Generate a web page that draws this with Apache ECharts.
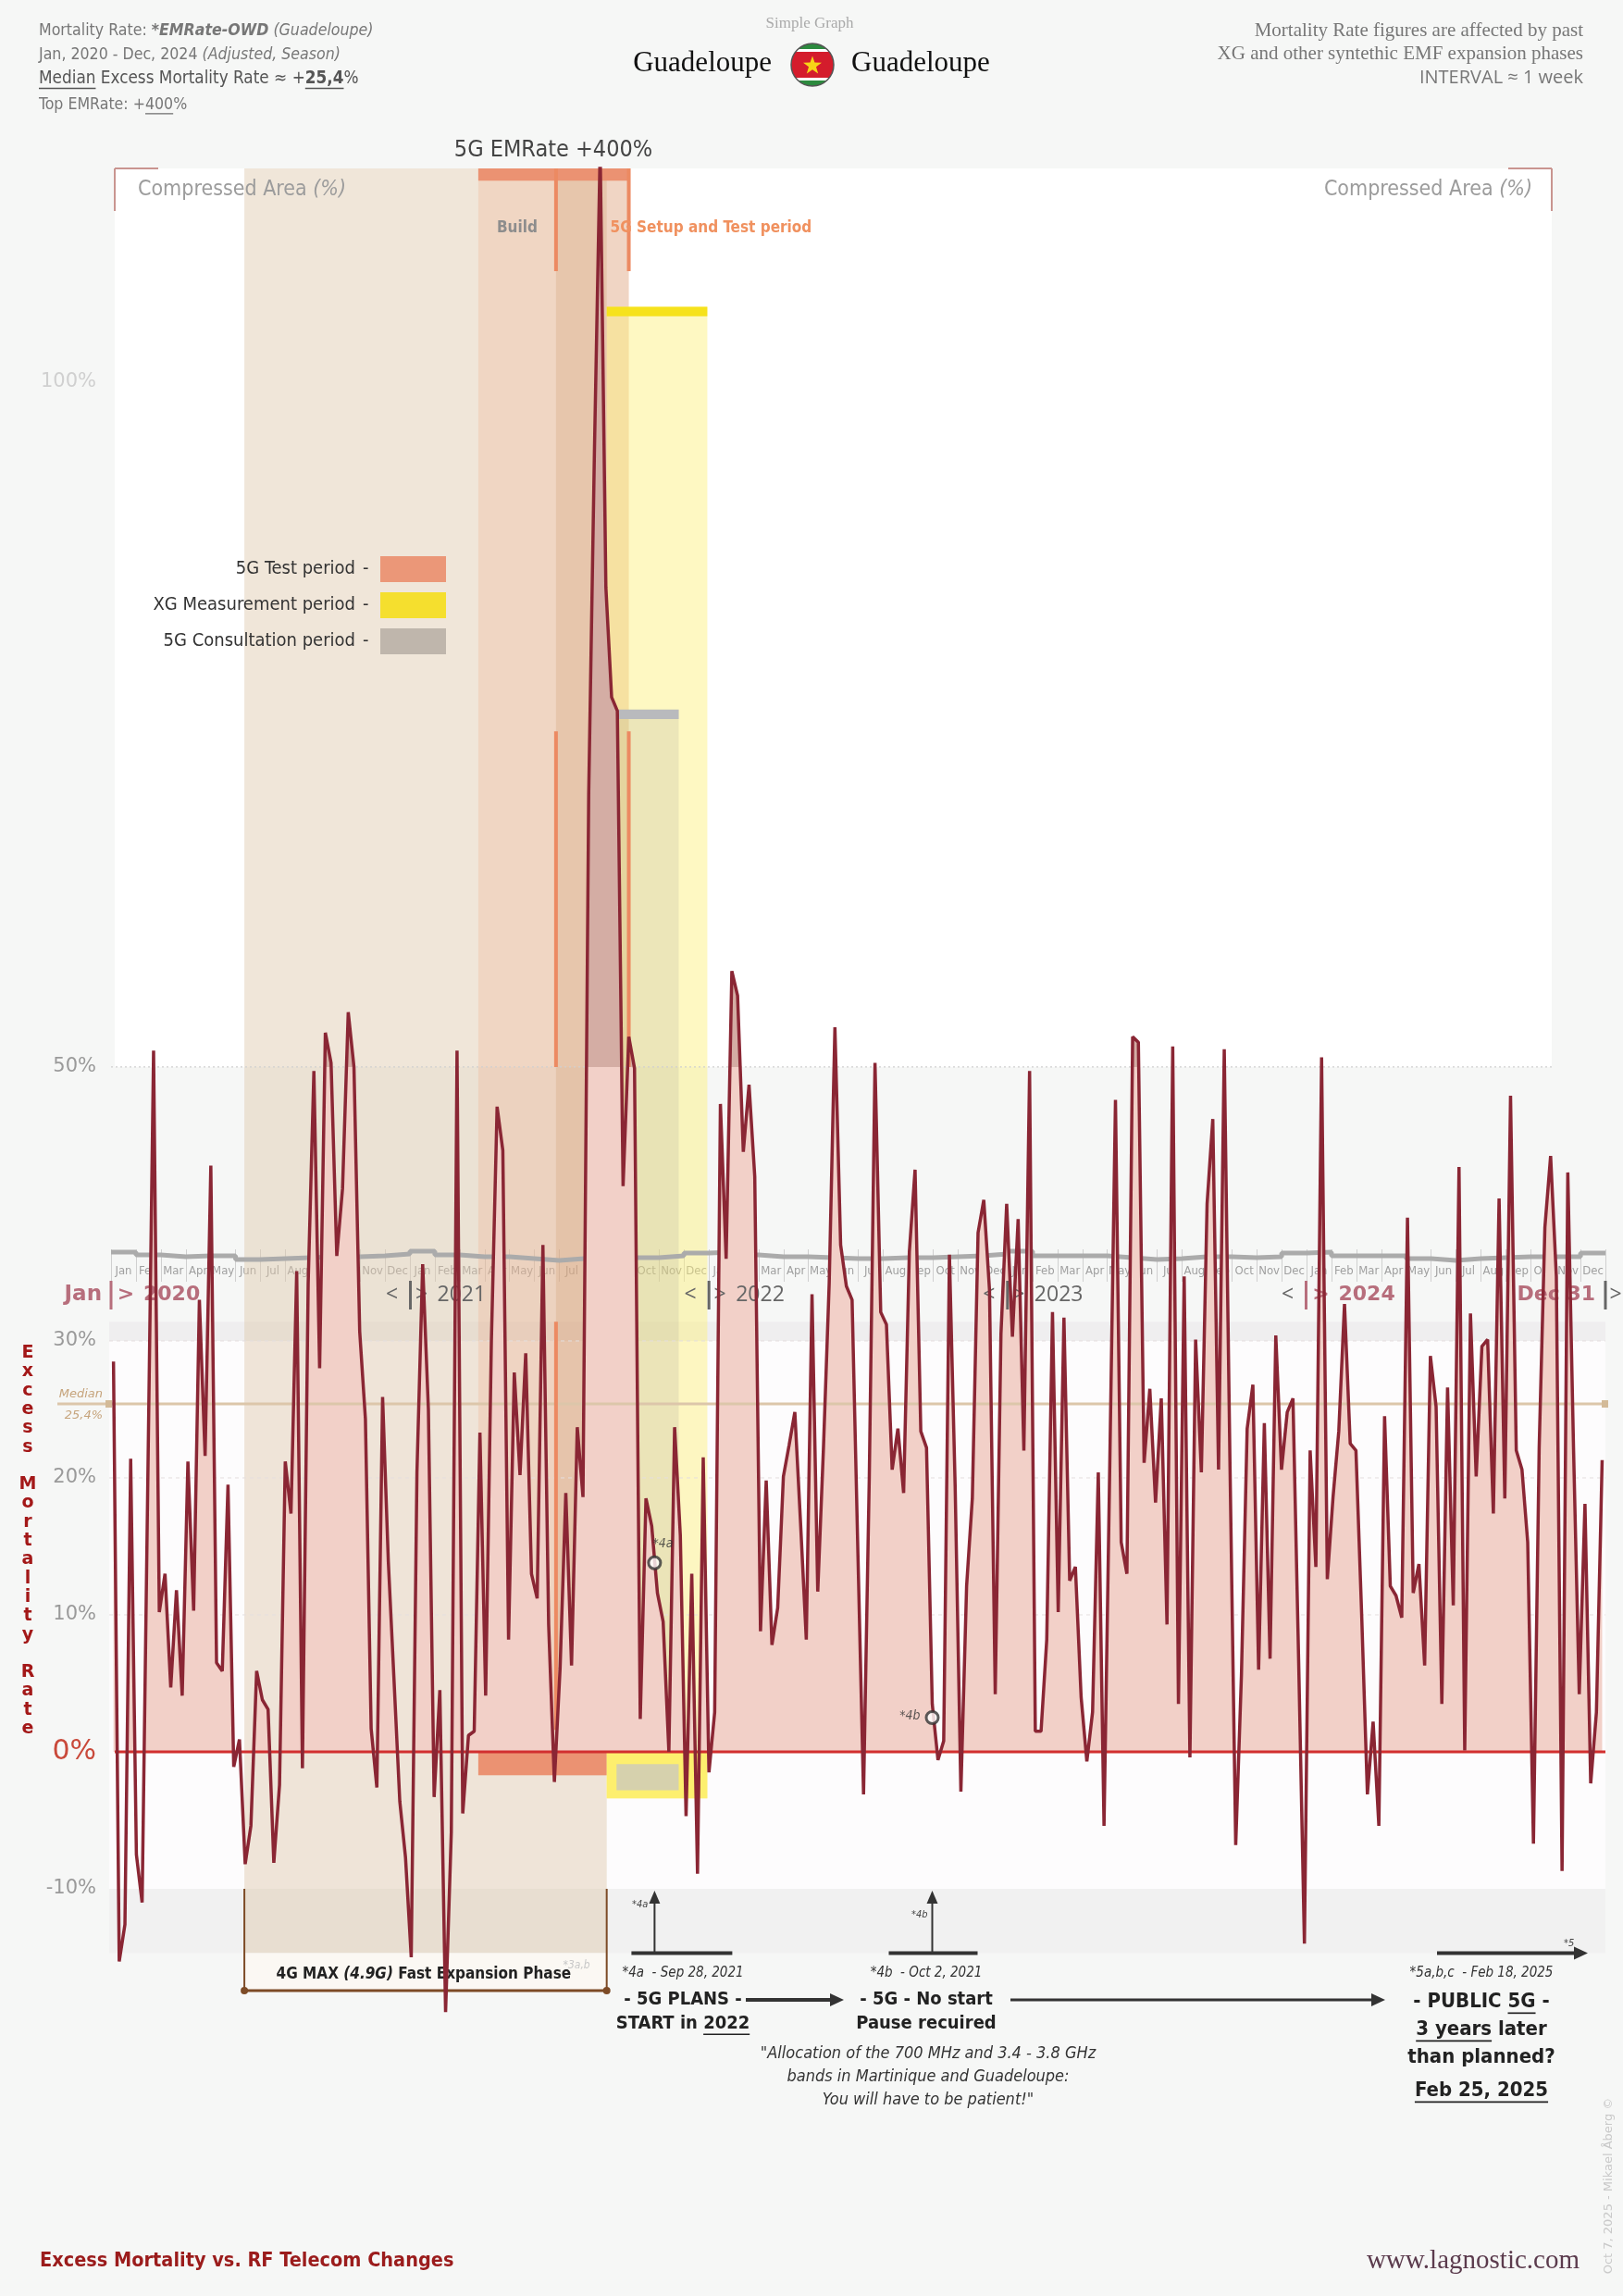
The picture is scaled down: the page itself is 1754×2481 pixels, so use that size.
<!DOCTYPE html>
<html>
<head>
<meta charset="utf-8">
<title>Guadeloupe - Excess Mortality vs. RF Telecom Changes</title>
<script src="https://cdn.jsdelivr.net/npm/echarts@6.0.0/dist/echarts.min.js"></script>
<style>
  html, body { margin: 0; padding: 0; background: #f6f7f6; }
  #chart { width: 1754px; height: 2481px; }
</style>
</head>
<body>
<div id="chart"></div>
<script>
// weekly excess mortality rate (%), first week of Jan 2020 .. last week of Dec 2024
const weeklyExcess = [
  28.5, -15.3, -12.6, 21.4, -7.5, -11, 20, 51.2, 10.2, 13,
  4.7, 11.8, 4.1, 21.2, 10.3, 33, 21.6, 42.8, 6.5, 5.9,
  19.5, -1.1, 0.9, -8.2, -5.4, 5.9, 3.8, 3.1, -8.1, -2.4,
  21.2, 17.4, 35.1, -1.2, 34.2, 49.7, 28, 52.5, 50.3, 36.2,
  41.1, 54, 50, 30.7, 24.3, 1.7, -2.6, 25.9, 13.9, 5.2,
  -3.6, -7.7, -15, 20.4, 35.6, 25, -3.3, 4.5, -19, -5.9,
  51.2, -4.5, 1.2, 1.5, 23.3, 4.1, 30, 47.1, 43.9, 8.2,
  27.7, 20.2, 29.1, 13, 11.2, 37, 9.3, -2.2, 6.1, 18.9,
  6.3, 23.7, 18.6, 70, 95, 117, 85, 77, 76, 41.3,
  52.2, 49.9, 2.4, 18.5, 16.5, 11.6, 9.5, 0, 23.7, 15.8,
  -4.7, 13, -8.9, 21.5, -1.5, 2.9, 47.3, 36, 57, 55.2,
  43.8, 48.7, 42, 8.8, 19.8, 7.8, 10.5, 20.1, 22.4, 24.8,
  16.7, 8.2, 33.4, 11.7, 22.2, 34.2, 52.9, 37, 34, 33,
  14.8, -3.1, 20, 50.3, 32.1, 31.2, 20.6, 23.6, 18.9, 36.5,
  42.5, 23.4, 22.2, 3.5, -0.6, 0.8, 36.3, 19.4, -2.9, 12.1,
  18.5, 37.9, 40.3, 33.7, 4.2, 30.5, 40, 30.3, 38.9, 22,
  49.7, 1.5, 1.5, 8.2, 32.1, 10.2, 31.7, 12.5, 13.5, 4,
  -0.7, 2.9, 20.4, -5.4, 20.8, 47.6, 15.3, 13, 52.2, 51.8,
  21.1, 26.5, 18.2, 25.8, 9.3, 51.5, 3.5, 34.7, -0.4, 30.1,
  20.4, 40, 46.2, 20.6, 51.3, 21, -6.8, 5.6, 23.6, 26.8,
  6, 24, 6.8, 30.4, 20.6, 24.8, 25.8, 6.5, -14, 22,
  13.5, 50.7, 12.6, 18.6, 23.4, 32.7, 22.5, 22, 10, -3.1,
  2.2, -5.4, 24.5, 12.1, 11.4, 9.8, 39, 11.6, 13.7, 6.3,
  28.9, 25.2, 3.5, 26.6, 10.7, 42.7, 0.1, 32, 20.1, 29.6,
  30.1, 17.4, 40.4, 18.5, 47.9, 22, 20.6, 15.3, -6.7, 22.2,
  38.3, 43.5, 34.7, -8.7, 42.3, 22.2, 4.2, 18.1, -2.3, 2.9,
  21.3
];
const firstWeek = [2020, 0, 4];
const monthAbbr = ['Jan','Feb','Mar','Apr','May','Jun','Jul','Aug','Sep','Oct','Nov','Dec'];
const years = [2020, 2021, 2022, 2023, 2024];
// grey seasonal step strip, one level per month (+ closing value)
const seasonLevel = [
  13,10,8,9,9,5,6,7,8,8,9,11,
  14,10,8,8,6,4,6,7,7,7,9,12,
  13,10,8,8,7,6,6,7,7,8,9,11,
  14,9,9,9,7,5,6,8,8,7,8,12,
  13,9,9,9,6,4,6,7,8,8,8,12, 12
];
const yTickValues = [100, 50, 30, 20, 10, 0, -10];
const gridLineValues = [10, 20, 30];
const medianRate = 25.4;
const topRate = 400;
// periods
const expansionPhase = ['2020-06-12', '2021-08-29'];
const testPeriod = ['2021-03-25', '2021-09-25'];
const setupStart = '2021-06-28';
const measurePeriod = ['2021-08-29', '2021-12-30'];
const consultPeriod = ['2021-09-10', '2021-11-25'];
// note markers: [id, week index, value]
const noteMarks = [['*4a', 94.5, 13.8], ['*4b', 143, 2.5]];

const NARROW = "'Liberation Sans Narrow','Arial Narrow','DejaVu Sans Condensed','Open Sans',sans-serif";
const OPEN = "'Open Sans','Noto Sans',sans-serif";
const SERIF = "'Liberation Serif','DejaVu Serif',serif";
const VERD = "'DejaVu Sans','Verdana',sans-serif";

const DAY = 864e5;
const tStart = new Date(2020, 0, 1).getTime();
const tEnd = new Date(2025, 0, 1).getTime();
const week0 = new Date(firstWeek[0], firstWeek[1], firstWeek[2]).getTime();
const weekTime = w => week0 + w * 7 * DAY;
const day = s => { const p = s.split('-').map(Number); return new Date(p[0], p[1] - 1, p[2]).getTime(); };

const lineData = weeklyExcess.map((v, i) => [weekTime(i), v]);
const monthNames = [];
years.forEach(() => monthAbbr.forEach(m => monthNames.push(m)));

const GT = 182, GB = 292, GH = 2481 - GT - GB;
const Y_MIN = -20, Y_MAX = 115.6;
const off = v => (Y_MAX - v) / (Y_MAX - Y_MIN);

const areaFill = {
  type: 'linear', x: 0, y: GT, x2: 0, y2: GT + GH, global: true,
  colorStops: [
    { offset: 0, color: '#d4ada4' }, { offset: off(50), color: '#d4ada4' },
    { offset: off(50), color: '#f2d0c8' }, { offset: off(0), color: '#f2d0c8' },
    { offset: off(0), color: 'rgba(255,255,255,0)' }, { offset: 1, color: 'rgba(255,255,255,0)' }
  ]
};

function box(t1, v1, t2, v2, color) {
  return [{ xAxis: day(t1), yAxis: v1, itemStyle: { color: color, opacity: 1 } }, { xAxis: day(t2), yAxis: v2 }];
}
const bandAreas = [
  box(expansionPhase[0], -14.7, expansionPhase[1], Y_MAX, 'rgba(222,200,170,0.45)'),
  box(testPeriod[0], -1.7, testPeriod[1], Y_MAX, 'rgba(240,150,110,0.2)'),
  box(setupStart, -1.7, testPeriod[1], Y_MAX, 'rgba(200,140,90,0.22)'),
  box(measurePeriod[0], -3.4, measurePeriod[1], 105.5, 'rgba(252,240,120,0.45)'),
  box(consultPeriod[0], -2.8, consultPeriod[1], 76.1, 'rgba(165,160,150,0.2)'),
  box(testPeriod[0], 114.7, testPeriod[1], Y_MAX, '#eb9272'),
  box(measurePeriod[0], 104.8, measurePeriod[1], 105.5, '#f6e21c'),
  box(consultPeriod[0], 75.4, consultPeriod[1], 76.1, '#b9babd'),
  box(testPeriod[0], 0, measurePeriod[0], -1.7, '#eb9272'),
  box(measurePeriod[0], 0, measurePeriod[1], -3.4, '#fdef6e'),
  box(consultPeriod[0], -0.9, consultPeriod[1], -2.8, '#d6d1ad')
];

const chart = echarts.init(document.getElementById('chart'));
chart.setOption({
  animation: false,
  backgroundColor: '#f6f7f6',
  textStyle: { fontFamily: NARROW },
  grid: [
    { left: 120, right: 19, top: GT, bottom: GB },
    { left: 120, right: 19, top: 1350, height: 16 }
  ],
  xAxis: [
    { type: 'time', gridIndex: 0, min: tStart, max: tEnd, show: false },
    {
      type: 'category', gridIndex: 1, data: monthNames, boundaryGap: true,
      axisLine: { show: false },
      axisTick: { show: true, interval: 0, length: 19, lineStyle: { color: '#d0d0d0' } },
      splitLine: { show: true, interval: 0, lineStyle: { color: '#d0d0d0' } },
      axisLabel: { interval: 0, margin: 1, color: '#a0a0a0', fontSize: 13, fontFamily: NARROW }
    },
    { type: 'category', gridIndex: 1, position: 'top', data: seasonLevel.map((v, i) => i), boundaryGap: false, show: false }
  ],
  yAxis: [
    { type: 'value', gridIndex: 0, min: Y_MIN, max: Y_MAX, show: false },
    { type: 'value', gridIndex: 1, min: 0, max: 16, show: false }
  ],
  series: [
    {
      name: 'periods', type: 'line', data: lineData, symbol: 'none', silent: true, z: 1,
      lineStyle: { opacity: 0 },
      markArea: { silent: true, label: { show: false }, data: bandAreas }
    },
    {
      name: 'season', type: 'line', xAxisIndex: 2, yAxisIndex: 1, data: seasonLevel,
      step: 'end', symbol: 'none', silent: true, z: 2,
      lineStyle: { color: '#ababab', width: 5 }
    },
    {
      name: 'area', type: 'line', data: lineData, symbol: 'none', silent: true, z: 3,
      lineStyle: { width: 0, opacity: 0 },
      areaStyle: { color: areaFill, opacity: 1 }
    },
    {
      name: 'Excess mortality', type: 'line', data: lineData, symbol: 'none', silent: true, z: 5,
      lineStyle: { color: '#8a2634', width: 3.5 }
    },
    {
      name: 'notes', type: 'scatter', z: 6, silent: true,
      symbol: 'circle', symbolSize: 13,
      itemStyle: { color: '#ffffff', borderColor: '#333', borderWidth: 3 },
      data: noteMarks.map((n, k) => ({
        name: n[0], value: [weekTime(n[1]), n[2]],
        label: {
          show: true, formatter: '{b}', fontStyle: 'italic', fontSize: 14, color: '#333',
          position: k === 0 ? 'top' : 'left', offset: k === 0 ? [9, 0] : [0, -2]
        }
      }))
    }
  ]
});

// measuring text so mixed runs and underlines line up
const mctx = document.createElement('canvas').getContext('2d');
function tw(t, s, f, w, i) {
  mctx.font = (i ? 'italic' : 'normal') + ' ' + (w || 'normal') + ' ' + s + 'px ' + f;
  return mctx.measureText(t).width;
}

function decorate() {
  const els = [];
  const P = (t, v) => chart.convertToPixel({ gridIndex: 0 }, [t, v]);
  const X = t => P(t, 0)[0];
  const Y = v => P(tStart, v)[1];
  const xL = X(tStart), xR = X(tEnd);

  function txt(x, y, text, o) {
    const el = {
      type: 'text', x: x, y: y, z: o.z == null ? 20 : o.z, silent: true,
      style: {
        text: text, fill: o.c || '#333', fontSize: o.s, fontFamily: o.f || NARROW,
        fontWeight: o.w || 'normal', fontStyle: o.i ? 'italic' : 'normal',
        align: o.a || 'left', verticalAlign: o.v || 'middle',
        textAlign: o.a || 'left', textVerticalAlign: o.v || 'middle'
      }
    };
    if (o.lh) el.style.lineHeight = o.lh;
    if (o.rot) el.rotation = o.rot;
    return el;
  }
  function ln(x1, y1, x2, y2, c, w, o) {
    o = o || {};
    return { type: 'line', z: o.z == null ? 4 : o.z, silent: true, shape: { x1: x1, y1: y1, x2: x2, y2: y2 },
      style: { stroke: c, lineWidth: w, lineDash: o.dash || null } };
  }
  function rc(x, y, w, h, fill, z) {
    return { type: 'rect', z: z, silent: true, shape: { x: x, y: y, width: w, height: h }, style: { fill: fill } };
  }
  function run(x, y, parts, o) {
    const pieces = parts.map(p => {
      const q = Object.assign({}, o, p);
      q.wd = tw(q.t, q.s, q.f || NARROW, q.w, q.i);
      return q;
    });
    const total = pieces.reduce((a, q) => a + q.wd, 0);
    let cx = o.a === 'right' ? x - total : o.a === 'center' ? x - total / 2 : x;
    pieces.forEach(q => {
      els.push(txt(cx, y, q.t, Object.assign({}, q, { a: 'left' })));
      if (q.u) els.push(ln(cx, y + q.s * 0.56, cx + q.wd, y + q.s * 0.56, q.c || '#333', Math.max(1.2, q.s / 13), { z: 20 }));
      cx += q.wd;
    });
  }
  function arrowR(x1, x2, y, c, w) {
    els.push(ln(x1, y, x2 - 10, y, c, w, { z: 20 }));
    els.push({ type: 'polygon', z: 20, silent: true, shape: { points: [[x2, y], [x2 - 15, y - 7], [x2 - 15, y + 7]] }, style: { fill: c } });
  }
  function arrowU(x, y1, y2, c, w) {
    els.push(ln(x, y1, x, y2 + 10, c, w, { z: 20 }));
    els.push({ type: 'polygon', z: 20, silent: true, shape: { points: [[x, y2], [x - 6, y2 + 14], [x + 6, y2 + 14]] }, style: { fill: c } });
  }

  // panel backgrounds
  els.push(rc(124, GT, 1677 - 124, Y(50) - GT, '#ffffff', 0));
  els.push(rc(118, Y(31.4), xR - 118, Y(30) - Y(31.4), '#efeeef', 0));
  els.push(rc(118, Y(30), xR - 118, Y(-10) - Y(30), '#fdfcfd', 0));
  els.push(rc(118, Y(-10), xR - 118, Y(-14.7) - Y(-10), '#f1f1f1', 0));

  // guides
  gridLineValues.forEach(v => els.push(ln(118, Y(v), xR, Y(v), '#e4dfdf', 1, { dash: [4, 4], z: 2 })));
  els.push(ln(xL, Y(50), 1677, Y(50), '#cfcfcf', 1.2, { dash: [2, 3], z: 2 }));
  const ym = Y(medianRate);
  els.push(ln(62, ym, xR, ym, '#dcc6aa', 3, { z: 4 }));
  els.push(rc(114, ym - 4, 7, 8, '#d3ba98', 4));
  els.push(rc(xR - 4, ym - 4, 7, 8, '#d3ba98', 4));
  els.push(ln(xL + 4, Y(0), xR, Y(0), '#d22f2f', 3, { z: 4 }));

  // orange period verticals
  const xs = X(day(setupStart)), xe = X(day(testPeriod[1]));
  [[Y_MAX, 108.1], [74.5, 50], [31.4, 1.6]].forEach(s => els.push(ln(xs, Y(s[0]), xs, Y(s[1]), '#ec8a62', 4, { z: 4 })));
  [[Y_MAX, 108.1], [74.5, 50]].forEach(s => els.push(ln(xe, Y(s[0]), xe, Y(s[1]), '#ec8a62', 4, { z: 4 })));

  // panel corners
  const cc = '#c99590';
  els.push(ln(124, GT, 171, GT, cc, 2, { z: 20 }), ln(124, GT, 124, 228, cc, 2, { z: 20 }));
  els.push(ln(1630, GT, 1677, GT, cc, 2, { z: 20 }), ln(1677, GT, 1677, 228, cc, 2, { z: 20 }));

  // header left
  run(42, 33, [{ t: 'Mortality Rate: ' }, { t: '*EMRate-OWD', w: 'bold', i: 1 }, { t: ' (Guadeloupe)', i: 1 }], { s: 17.6, c: '#777' });
  run(42, 59, [{ t: 'Jan, 2020 - Dec, 2024 ' }, { t: '(Adjusted, Season)', i: 1 }], { s: 17.6, c: '#777' });
  run(42, 85, [{ t: 'Median', u: 1 }, { t: ' Excess Mortality Rate \u2248 +' }, { t: String(medianRate).replace('.', ','), u: 1, w: 'bold' }, { t: '%' }], { s: 18.8, c: '#555' });
  run(42, 113, [{ t: 'Top EMRate: +' }, { t: String(topRate), u: 1 }, { t: '%' }], { s: 17.6, c: '#777' });
  // header right
  els.push(txt(1711, 33, 'Mortality Rate figures are affected by past', { s: 21, f: SERIF, c: '#777', a: 'right' }));
  els.push(txt(1711, 58, 'XG and other syntethic EMF expansion phases', { s: 21, f: SERIF, c: '#777', a: 'right' }));
  els.push(txt(1711, 84, 'INTERVAL \u2248 1 week', { s: 20, f: OPEN, c: '#777', a: 'right' }));
  // title + flag
  els.push(txt(875, 26, 'Simple Graph', { s: 17, f: SERIF, c: '#aaa', a: 'center' }));
  els.push(txt(834, 69, 'Guadeloupe', { s: 31, f: SERIF, c: '#111', a: 'right' }));
  els.push(txt(920, 69, 'Guadeloupe', { s: 31, f: SERIF, c: '#111' }));
  const fx = 878, fy = 70, fr = 23;
  function cap(y1, y2) {
    const pts = [], n = 14;
    for (let k = 0; k <= n; k++) { const y = y1 + (y2 - y1) * k / n; pts.push([fx + Math.sqrt(Math.max(0, fr * fr - (y - fy) * (y - fy))), y]); }
    for (let k = n; k >= 0; k--) { const y = y1 + (y2 - y1) * k / n; pts.push([fx - Math.sqrt(Math.max(0, fr * fr - (y - fy) * (y - fy))), y]); }
    return pts;
  }
  [[fy - fr, fy - fr + 6, '#2c8a3e'], [fy - fr + 6, fy - fr + 9, '#ffffff'], [fy - fr + 9, fy + fr - 9, '#d41c2c'],
   [fy + fr - 9, fy + fr - 6, '#ffffff'], [fy + fr - 6, fy + fr, '#2c8a3e']].forEach(b =>
    els.push({ type: 'polygon', z: 20, silent: true, shape: { points: cap(b[0], b[1]) }, style: { fill: b[2] } }));
  const star = [];
  for (let k = 0; k < 10; k++) { const r = k % 2 ? 4.2 : 10.5, a = -Math.PI / 2 + k * Math.PI / 5; star.push([fx + r * Math.cos(a), fy + 1 + r * Math.sin(a)]); }
  els.push({ type: 'polygon', z: 21, silent: true, shape: { points: star }, style: { fill: '#f7d417' } });
  els.push({ type: 'circle', z: 21, silent: true, shape: { cx: fx, cy: fy, r: fr }, style: { fill: 'none', stroke: '#555', lineWidth: 1.5 } });

  // chart annotations
  els.push(txt(598, 162, '5G EMRate +' + topRate + '%', { s: 25, c: '#444', a: 'center' }));
  run(149, 205, [{ t: 'Compressed Area ' }, { t: '(%)', i: 1 }], { s: 23, c: '#9c9c9c' });
  run(1656, 205, [{ t: 'Compressed Area ' }, { t: '(%)', i: 1 }], { s: 23, c: '#9c9c9c', a: 'right' });
  els.push(txt((X(day(testPeriod[0])) + xs) / 2, 247, 'Build', { s: 17, w: 'bold', c: '#8d8d8d', a: 'center' }));
  els.push(txt(xe - 20, 247, '5G Setup and Test period', { s: 17, w: 'bold', c: '#f0915f' }));

  // legend
  [['5G Test period', '#eb9778', 615], ['XG Measurement period', '#f5df2e', 654], ['5G Consultation period', '#bfb6ac', 693]].forEach(r => {
    els.push(txt(384, r[2], r[0], { s: 20, c: '#333', a: 'right' }));
    els.push(txt(392, r[2], '-', { s: 20, c: '#333' }));
    els.push(rc(411, r[2] - 14, 71, 28, r[1], 20));
  });

  // y tick labels
  yTickValues.forEach(v => {
    const st = v === 0 ? { s: 30, c: '#c9493a' } : v === 100 ? { s: 21, c: '#d0d0d0' } : { s: 21, c: '#9a9a9a' };
    els.push(txt(104, Y(v), v + '%', Object.assign({ f: VERD, a: 'right' }, st)));
  });
  els.push(txt(30, 1452, 'E\nx\nc\ne\ns\ns\n\nM\no\nr\nt\na\nl\ni\nt\ny\n\nR\na\nt\ne',
    { s: 19, w: 'bold', c: '#a31818', a: 'center', v: 'top', lh: 20.3, f: VERD }));
  els.push(txt(111, ym - 10, 'Median', { s: 13, i: 1, c: '#c6a47c', a: 'right', f: VERD }));
  els.push(txt(111, ym + 13, String(medianRate).replace('.', ',') + '%', { s: 13, i: 1, c: '#c6a47c', a: 'right', f: VERD }));

  // year markers on the month strip
  const rose = '#b76e7c', grey = '#666', yy = 1399;
  years.forEach((yr, k) => {
    const x = X(new Date(yr, 0, 1).getTime());
    const hot = k === 0 || k === years.length - 1;
    els.push(rc(x - 1.5, 1384, 3, 31, hot ? rose : '#666', 4));
    if (k === 0) {
      els.push(txt(x - 10, yy, 'Jan', { s: 23, w: 'bold', f: VERD, c: rose, a: 'right', z: 4 }));
    } else {
      els.push(txt(x - 20, yy, '<', { s: 23, f: OPEN, c: grey, a: 'center', z: 4 }));
    }
    if (hot) {
      els.push(txt(x + 16, yy, '>', { s: 22, f: VERD, c: rose, w: 'bold', a: 'center', z: 4 }));
      els.push(txt(x + 35, yy, String(yr), { s: 22, f: VERD, c: rose, w: 'bold', z: 4 }));
    } else {
      els.push(txt(x + 12, yy, '>', { s: 23, f: OPEN, c: grey, a: 'center', z: 4 }));
      els.push(txt(x + 29, yy, String(yr), { s: 23, f: OPEN, c: grey, z: 4 }));
    }
  });
  els.push(txt(xR - 11, yy, 'Dec 31', { s: 22, w: 'bold', f: VERD, c: rose, a: 'right', z: 4 }));
  els.push(rc(xR - 1.5, 1384, 3, 31, '#666', 4));
  els.push(txt(xR + 11, yy, '>', { s: 23, f: OPEN, c: grey, a: 'center', z: 4 }));

  // expansion phase box under the chart
  const xa = X(day(expansionPhase[0])), xb = X(day(expansionPhase[1]));
  const bTop = Y(-14.7), bBot = 2151;
  els.push(rc(xa, bTop, xb - xa, bBot - bTop, '#fbf8f3', 2));
  els.push(ln(xa, Y(-10), xa, bBot, '#7d4b26', 2, { z: 3 }), ln(xb, Y(-10), xb, bBot, '#7d4b26', 2, { z: 3 }));
  els.push(ln(xa, bBot, xb, bBot, '#7d4b26', 3, { z: 3 }));
  els.push({ type: 'circle', z: 3, silent: true, shape: { cx: xa, cy: bBot, r: 4 }, style: { fill: '#7d4b26' } });
  els.push({ type: 'circle', z: 3, silent: true, shape: { cx: xb, cy: bBot, r: 4 }, style: { fill: '#7d4b26' } });
  run((xa + xb) / 2 - 2, 2134, [{ t: '4G MAX ' }, { t: '(4.9G)', i: 1 }, { t: ' Fast Expansion Phase' }], { s: 17, w: 'bold', c: '#222', a: 'center', z: 3 });
  els.push(txt(xb - 18, 2124, '*3a,b', { s: 12, i: 1, c: '#c8c8c8', a: 'right' }));

  // note arrows and texts
  const n4a = X(weekTime(noteMarks[0][1])), n4b = X(weekTime(noteMarks[1][1]));
  const aTip = Y(-10) + 2, aBase = Y(-14.7);
  arrowU(n4a, aBase, aTip, '#333', 2);
  els.push(ln(n4a - 25, aBase, n4a + 84, aBase, '#333', 4, { z: 20 }));
  els.push(txt(n4a - 7, 2058, '*4a', { s: 11, i: 1, c: '#444', a: 'right' }));
  arrowU(n4b, aBase, aTip, '#333', 2);
  els.push(ln(n4b - 47, aBase, n4b + 49, aBase, '#333', 4, { z: 20 }));
  els.push(txt(n4b - 5, 2069, '*4b', { s: 11, i: 1, c: '#444', a: 'right' }));

  run(738, 2132, [{ t: '*4a  - Sep 28, 2021' }], { s: 15, i: 1, c: '#333', a: 'center' });
  run(738, 2161, [{ t: '- 5G PLANS -' }], { s: 20, w: 'bold', c: '#222', a: 'center' });
  run(738, 2187, [{ t: 'START in ' }, { t: '2022', u: 1 }], { s: 20, w: 'bold', c: '#222', a: 'center' });
  arrowR(806, 912, 2161, '#333', 4);
  run(1001, 2132, [{ t: '*4b  - Oct 2, 2021' }], { s: 15, i: 1, c: '#333', a: 'center' });
  run(1001, 2161, [{ t: '- 5G - No start' }], { s: 20, w: 'bold', c: '#222', a: 'center' });
  run(1001, 2187, [{ t: 'Pause recuired' }], { s: 20, w: 'bold', c: '#222', a: 'center' });
  arrowR(1092, 1497, 2161, '#333', 3);
  els.push(txt(1003, 2219, '"Allocation of the 700 MHz and 3.4 - 3.8 GHz', { s: 18, i: 1, c: '#333', a: 'center' }));
  els.push(txt(1003, 2244, 'bands in Martinique and Guadeloupe:', { s: 18, i: 1, c: '#333', a: 'center' }));
  els.push(txt(1003, 2269, 'You will have to be patient!"', { s: 18, i: 1, c: '#333', a: 'center' }));
  arrowR(1553, 1716, aBase, '#333', 4);
  els.push(txt(1690, 2100, '*5', { s: 11, i: 1, c: '#444' }));
  run(1601, 2132, [{ t: '*5a,b,c  - Feb 18, 2025' }], { s: 15, i: 1, c: '#333', a: 'center' });
  run(1601, 2163, [{ t: '- PUBLIC ' }, { t: '5G', u: 1 }, { t: ' -' }], { s: 22, w: 'bold', c: '#222', a: 'center' });
  run(1601, 2193, [{ t: '3 years', u: 1 }, { t: ' later' }], { s: 22, w: 'bold', c: '#222', a: 'center' });
  run(1601, 2223, [{ t: 'than planned?' }], { s: 22, w: 'bold', c: '#222', a: 'center' });
  run(1601, 2259, [{ t: 'Feb 25, 2025', u: 1 }], { s: 22, w: 'bold', c: '#222', a: 'center' });

  // footer
  els.push(txt(43, 2443, 'Excess Mortality vs. RF Telecom Changes', { s: 21.5, w: 'bold', c: '#9b1c1c' }));
  els.push(txt(1707, 2443, 'www.lagnostic.com', { s: 29, f: SERIF, c: '#5b3b4d', a: 'right' }));
  els.push(txt(1739, 2362, 'Oct 7, 2025 - Mikael \u00c5berg \u00a9', { s: 13, f: VERD, c: '#c9c9c9', a: 'center', rot: Math.PI / 2 }));

  chart.setOption({ graphic: { elements: els } });
}
decorate();
</script>
</body>
</html>
